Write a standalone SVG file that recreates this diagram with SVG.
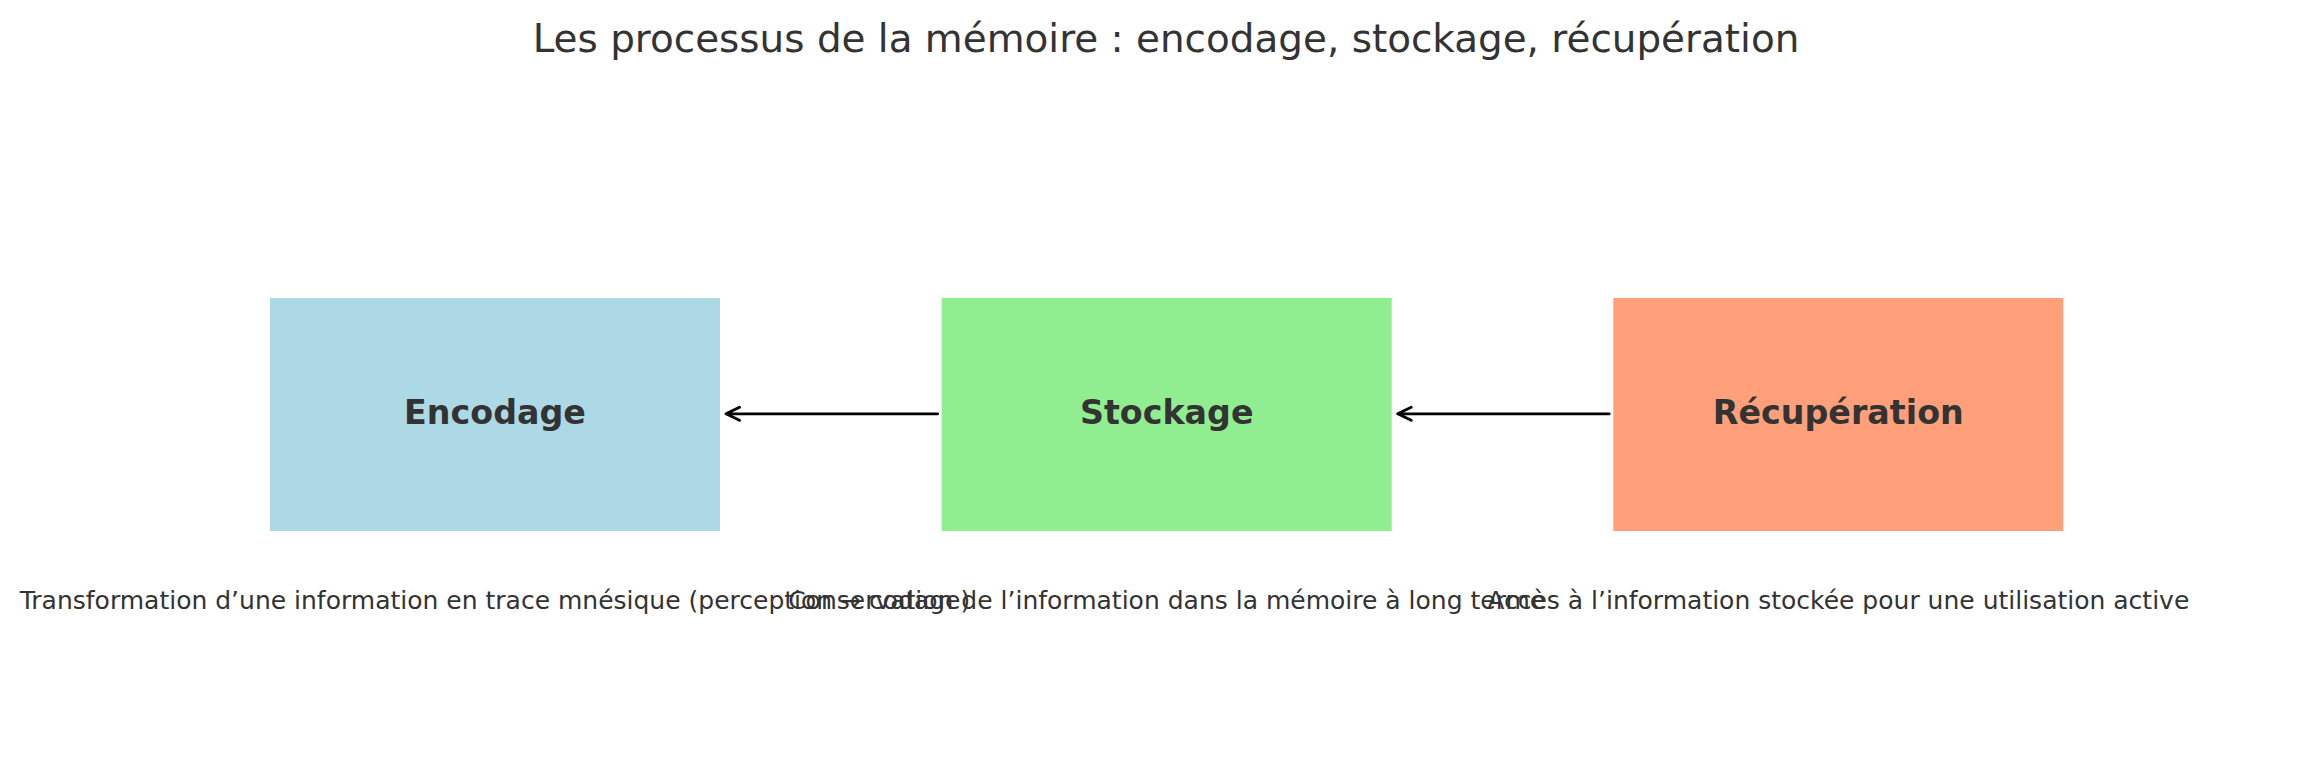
<svg xmlns="http://www.w3.org/2000/svg" width="2304" height="780" viewBox="0 0 2304 780">
<style>
text{font-family:"DejaVu Sans","Liberation Sans",sans-serif;fill:#333333;text-anchor:middle}
.title{font-size:38.9px}
.label{font-size:33.3px;font-weight:bold}
.desc{font-size:25px}
.conn{fill:none;stroke:#000000;stroke-width:2.8;stroke-linecap:round;stroke-linejoin:round}
</style>
<rect width="2304" height="780" fill="#ffffff"/>
<text class="title" x="1166" y="52">Les processus de la mémoire : encodage, stockage, récupération</text>
<g id="encodage">
<rect x="270" y="298" width="450" height="233" fill="#ADD8E6"/>
<text class="label" x="495" y="424">Encodage</text>
<text class="desc" x="495" y="608.5">Transformation d’une information en trace mnésique (perception → codage)</text>
</g>
<g id="stockage">
<rect x="941.7" y="298" width="450" height="233" fill="#90EE90"/>
<text class="label" x="1166.7" y="424">Stockage</text>
<text class="desc" x="1166.7" y="608.5">Conservation de l’information dans la mémoire à long terme</text>
</g>
<g id="recuperation">
<rect x="1613.3" y="298" width="450" height="233" fill="#FFA07A"/>
<text class="label" x="1838.3" y="424">Récupération</text>
<text class="desc" x="1838.3" y="608.5">Accès à l’information stockée pour une utilisation active</text>
</g>
<g id="connectors">
<path class="conn" d="M937.7,413.8 L726,413.8 M739.5,407.3 L726,413.8 L739.5,420.3"/>
<path class="conn" d="M1609.3,413.8 L1397.7,413.8 M1411.2,407.3 L1397.7,413.8 L1411.2,420.3"/>
</g>
</svg>
